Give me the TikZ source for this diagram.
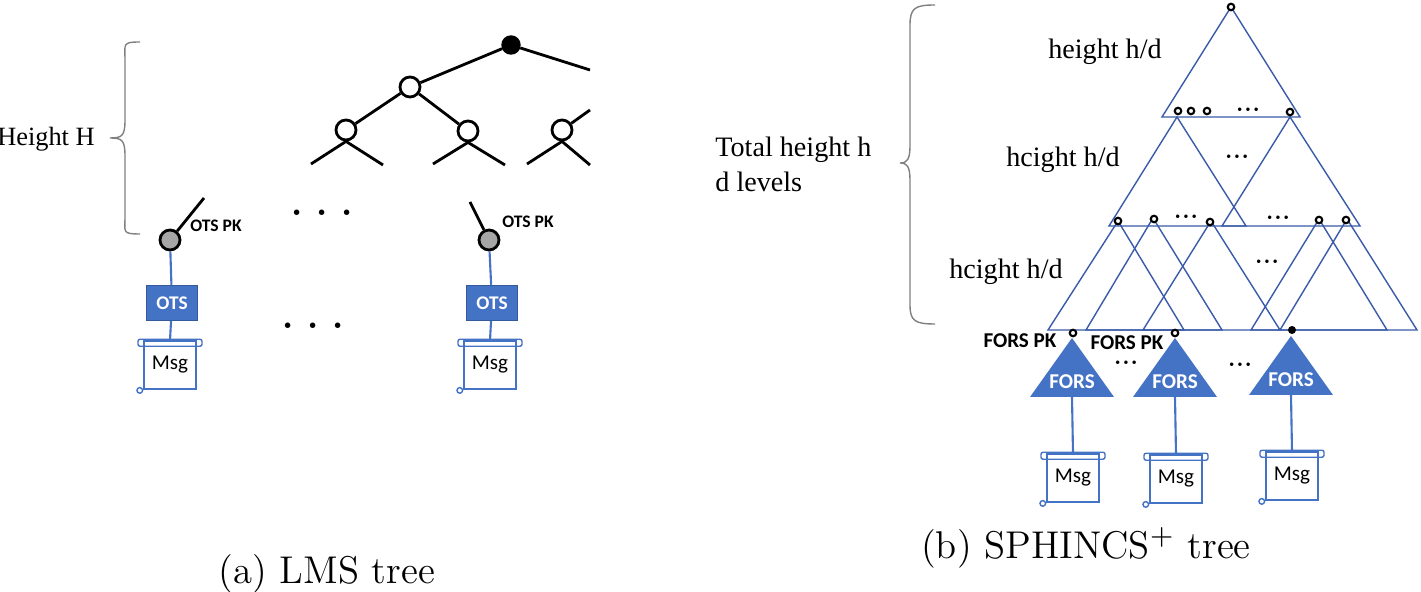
\documentclass[tikz,border=0pt]{standalone}
\usepackage{fontspec}
\newfontfamily\calfont{Carlito}
\newfontfamily\tms{Liberation Serif}
\definecolor{officeblue}{HTML}{4472C4}
\definecolor{lineblue}{HTML}{3A5BA8}
\tikzset{
  wnode/.style={circle,draw,thick,fill=white,minimum size=2mm,inner sep=0pt},
  bnode/.style={circle,draw,fill=black,minimum size=1.8mm,inner sep=0pt},
  gnode/.style={circle,draw,thick,fill=gray!70,minimum size=2mm,inner sep=0pt},
  otsbox/.style={rectangle,draw=officeblue!80!black,fill=officeblue,text=white,font=\calfont\bfseries\fontsize{5.5}{6}\selectfont,minimum width=5.1mm,minimum height=3.5mm,inner sep=0pt},
  msgbox/.style={rectangle,draw=officeblue,thin,minimum width=5.2mm,minimum height=4.8mm,font=\calfont\fontsize{6}{7}\selectfont,inner sep=0pt},
  pklabel/.style={font=\calfont\bfseries\fontsize{5}{6}\selectfont},
  hlabel/.style={font=\tms\fontsize{8}{9}\selectfont},
  pt/.style={circle,draw,semithick,fill=white,minimum size=0.65mm,inner sep=0pt},
  tri/.style={draw=lineblue,thin},
  link/.style={officeblue,semithick}
}
\newcommand{\scrolltop}[1]{%
  \draw[officeblue,thin,rounded corners=0.6pt] ([xshift=-1.5pt,yshift=0.3pt]#1.north west) rectangle ([xshift=1.5pt,yshift=-1.7pt]#1.north east);
  \draw[officeblue,thin] ([xshift=-1pt,yshift=-0.2pt]#1.south west) circle (0.8pt);}
\begin{document}
\begin{tikzpicture}[x=0.01cm,y=-0.01cm]
\useasboundingbox (0,0) rectangle (1421,592);
% (a) LMS tree
\node[bnode] (root) at (511,45) {};
\node[wnode] (n1) at (410,87) {};
\node[wnode] (n2) at (346,130) {};
\node[wnode] (n3) at (468,131) {};
\node[wnode] (n4) at (562,130) {};
\draw[thick] (root) -- (n1);
\draw[thick] (root) -- (590,70);
\draw[thick] (n1) -- (n2);
\draw[thick] (n1) -- (n3);
\draw[thick] (n4) -- (590,110);
\foreach \n/\x in {n2/346,n3/468,n4/562}{
  \draw[thick] (\n.south) -- (\x-35,164);
  \draw[thick] (\n.south) -- ({min(\x+37,590)},165);
}
\draw[gray,thin] (140,42) .. controls (122,42) and (125,44) .. (125,60) -- (125,120) .. controls (125,136) and (122,138) .. (110,138) .. controls (122,138) and (125,140) .. (125,156) -- (125,218) .. controls (125,232) and (122,234) .. (140,234);
\node[font=\tms\fontsize{7.5}{9}\selectfont] (hH) at (46,139) {Height H};
\node[gnode] (pkL) at (170,240) {};
\node[gnode] (pkR) at (489,240) {};
\draw[thick] (pkL) -- (204,198);
\draw[thick] (pkR) -- (470,202);
\node[pklabel] at (216,226) {OTS PK};
\node[pklabel] at (528,222) {OTS PK};
\node[otsbox] (otsL) at (172,303) {OTS};
\node[otsbox] (otsR) at (492,303) {OTS};
\node[msgbox] (msgL) at (170,365) {Msg};
\node[msgbox] (msgR) at (490,365) {Msg};
\scrolltop{msgL}\scrolltop{msgR}
\draw[link] (pkL) -- (otsL); \draw[link] (otsL) -- (msgL.north);
\draw[link] (pkR) -- (otsR); \draw[link] (otsR) -- (msgR.north);
\node[font=\bfseries\fontsize{10}{10}\selectfont] at (322,213) {.\hspace{4pt}.\hspace{4pt}.};
\node[font=\bfseries\fontsize{10}{10}\selectfont] at (313,326) {.\hspace{4pt}.\hspace{4pt}.};
\node[font=\fontsize{11}{13}\selectfont] (capa) at (327,574) {(a) LMS tree};
% (b) SPHINCS+ tree
\draw[tri] (1231,7) -- (1162,117) -- (1300,117) -- cycle;
\draw[tri] (1177,117) -- (1109,226) -- (1246,226) -- cycle;
\draw[tri] (1290,117) -- (1222,226) -- (1360,226) -- cycle;
\foreach \ax/\ay/\bl/\br in {1118/221/1048/1184, 1153/218/1086/1222, 1211/221/1143/1280, 1319/219/1251/1387, 1347/219/1280/1417}{
  \draw[tri] (\ax,\ay) -- (\bl,330) -- (\br,330) -- cycle;
}
\foreach \x/\y in {1231/7,1178/111,1191/111,1207/111,1290/112,1118/221,1154/219,1210/222,1319/220,1346/220,1073/333,1175/333}
  \node[pt] at (\x,\y) {};
\node[circle,fill=black,minimum size=0.8mm,inner sep=0pt] at (1292,330) {};
\foreach \x/\y in {1248/110,1237/157,1186/217,1278/218,1267/262,1126/363,1240/365,1291/361}
  \node[font=\bfseries\fontsize{6}{6}\selectfont] at (\x,\y) {...};
\node[hlabel] at (1105,52) {height h/d};
\node[hlabel] at (1063,160) {hcight h/d};
\node[hlabel] at (1006,272) {hcight h/d};
\draw[gray,thin] (935,5) .. controls (915,5) and (910,8) .. (910,25) -- (910,145) .. controls (910,160) and (907,163) .. (900,163) .. controls (907,163) and (910,166) .. (910,181) -- (910,305) .. controls (910,321) and (915,324) .. (935,324);
\node[font=\tms\fontsize{8}{10}\selectfont,align=left,anchor=west] (tot) at (703,164) {Total height h\\d levels};
\foreach \i/\x/\y/\n in {1/1072/397/forsA,2/1175/397/forsB,3/1291/395/forsC}{
  \fill[officeblue] (\x,\y-59) -- (\x-42,\y) -- (\x+42,\y) -- cycle;
  \node[text=white,font=\calfont\bfseries\fontsize{6}{7}\selectfont] at (\x,\y-15) {FORS};
  \coordinate (\n) at (\x,\y);
}
\node[font=\calfont\bfseries\fontsize{6}{7}\selectfont] at (1020,341) {FORS PK};
\node[font=\calfont\bfseries\fontsize{6}{7}\selectfont] at (1127,343) {FORS PK};
\node[msgbox] (msgA) at (1073,478) {Msg};
\node[msgbox] (msgB) at (1176,479) {Msg};
\node[msgbox] (msgC) at (1292,476) {Msg};
\scrolltop{msgA}\scrolltop{msgB}\scrolltop{msgC}
\draw[link] (forsA) -- (msgA.north);
\draw[link] (forsB) -- (msgB.north);
\draw[link] (forsC) -- (msgC.north);
\node[font=\fontsize{11}{13}\selectfont] (capb) at (1086,548) {(b) SPHINCS$^+$ tree};
\end{tikzpicture}
\end{document}
